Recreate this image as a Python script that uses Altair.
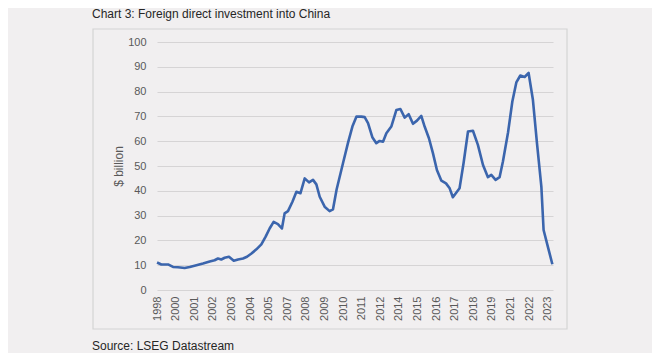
import altair as alt
import pandas as pd

# Decimal-year positions and values ($ billion)
years = [1998.92, 1999.19, 1999.61, 1999.92, 2000.23, 2000.65, 2000.97, 2001.39, 2001.80,
         2002.22, 2002.53, 2002.74, 2002.95, 2003.16, 2003.43, 2003.73, 2004.00, 2004.31,
         2004.56, 2004.84, 2005.15, 2005.46, 2005.73, 2005.98, 2006.23, 2006.50, 2006.75,
         2006.92, 2007.13, 2007.41, 2007.66, 2007.91, 2008.18, 2008.45, 2008.70, 2008.91,
         2009.12, 2009.43, 2009.74, 2009.95, 2010.18, 2010.58, 2010.89, 2011.17, 2011.42,
         2011.73, 2011.94, 2012.15, 2012.42, 2012.67, 2012.88, 2013.09, 2013.30, 2013.61,
         2013.93, 2014.18, 2014.45, 2014.70, 2014.97, 2015.22, 2015.49, 2015.70, 2015.97,
         2016.22, 2016.47, 2016.75, 2017.04, 2017.27, 2017.47, 2017.89, 2018.14, 2018.42,
         2018.73, 2019.04, 2019.36, 2019.67, 2019.88, 2020.15, 2020.40, 2020.61, 2020.93,
         2021.20, 2021.45, 2021.70, 2021.97, 2022.22, 2022.49, 2022.74, 2023.02, 2023.16,
         2023.43, 2023.71]
fdi = [11.1, 10.3, 10.3, 9.3, 9.2, 8.9, 9.3, 10.0, 10.7,
       11.5, 12.0, 12.7, 12.3, 13.0, 13.4, 11.8, 12.3, 12.7,
       13.4, 14.7, 16.4, 18.4, 21.5, 24.8, 27.5, 26.6, 24.8,
       30.9, 31.8, 35.6, 39.6, 39.0, 45.0, 43.4, 44.4, 42.6,
       37.6, 33.6, 31.8, 32.5, 40.5, 51.1, 59.2, 65.9, 69.9,
       69.9, 69.7, 67.3, 61.6, 59.2, 60.1, 59.8, 63.2, 65.9,
       72.6, 73.0, 69.5, 70.9, 67.0, 68.3, 70.2, 65.9, 61.2,
       55.2, 48.4, 44.1, 43.0, 41.0, 37.4, 41.0, 51.1, 63.9,
       64.2, 58.5, 50.4, 45.5, 46.4, 44.4, 45.5, 51.8, 63.5,
       76.0, 83.7, 86.5, 85.9, 87.5, 76.7, 59.5, 41.7, 24.2,
       17.4, 10.4]

# Category-axis label positions (every 14 months from Dec 1998)
tick_positions = [1998 + 11 / 12 + 14 * k / 12 for k in range(22)]
y_ticks = list(range(0, 101, 10))

title_text = "Chart 3: Foreign direct investment into China"
source_text = "Source: LSEG Datastream"

df = pd.DataFrame({"year": years, "fdi": fdi})

FONT = "Liberation Sans"
GREY = "#595959"

frame = alt.Chart(pd.DataFrame({"a": [0]})).mark_rect(
    fill="#f4f2f3", fillOpacity=0, stroke="#d4d4d4", strokeWidth=1.2
).encode(
    x=alt.value(-64), x2=alt.value(410), y=alt.value(-13), y2=alt.value(287)
)

line = alt.Chart(df).mark_line(color="#3b65ad", strokeWidth=2.6, strokeJoin="round").encode(
    x=alt.X(
        "year:Q",
        scale=alt.Scale(domain=[1998 + 11 / 12, 1998 + 11 / 12 + 298 / 12], nice=False, zero=False),
        axis=alt.Axis(
            values=tick_positions,
            labelExpr="floor(datum.value + 0.001)",
            labelAngle=-90,
            labelFontSize=11,
            labelFont=FONT,
            labelColor=GREY,
            labelPadding=6,
            ticks=False,
            domain=False,
            grid=False,
            title=None,
            labelOverlap=False,
            labelBound=False,
            labelFlush=False,
        ),
    ),
    y=alt.Y(
        "fdi:Q",
        scale=alt.Scale(domain=[0, 100], nice=False),
        axis=alt.Axis(
            values=y_ticks,
            labelFontSize=11,
            labelFont=FONT,
            labelColor=GREY,
            labelPadding=11,
            ticks=False,
            domain=False,
            grid=True,
            gridColor="#d6d4d5",
            gridWidth=1.2,
            title="$ billion",
            titleFont=FONT,
            titleFontSize=12,
            titleFontWeight="normal",
            titleColor=GREY,
            titleX=-39,
            titleY=124,
            titleAngle=-90,
            titleAlign="center",
            titleBaseline="middle",
        ),
    ),
)

title = alt.Chart(pd.DataFrame({"t": [title_text]})).mark_text(
    align="left", baseline="middle", font=FONT, fontSize=12, color="#262626"
).encode(text="t:N", x=alt.value(-65), y=alt.value(-28))

source = alt.Chart(pd.DataFrame({"t": [source_text]})).mark_text(
    align="left", baseline="middle", font=FONT, fontSize=12, color="#262626"
).encode(text="t:N", x=alt.value(-65), y=alt.value(304))

chart = alt.layer(frame, line, title, source).properties(
    width=396,
    height=248,
    autosize=alt.AutoSizeParams(type="none"),
    padding={"left": 149, "top": 34, "right": 99, "bottom": 63},
    background="#f1eff0",
).configure_view(stroke=None)

chart.save("out.html", embed_options={"renderer": "svg", "actions": False})
